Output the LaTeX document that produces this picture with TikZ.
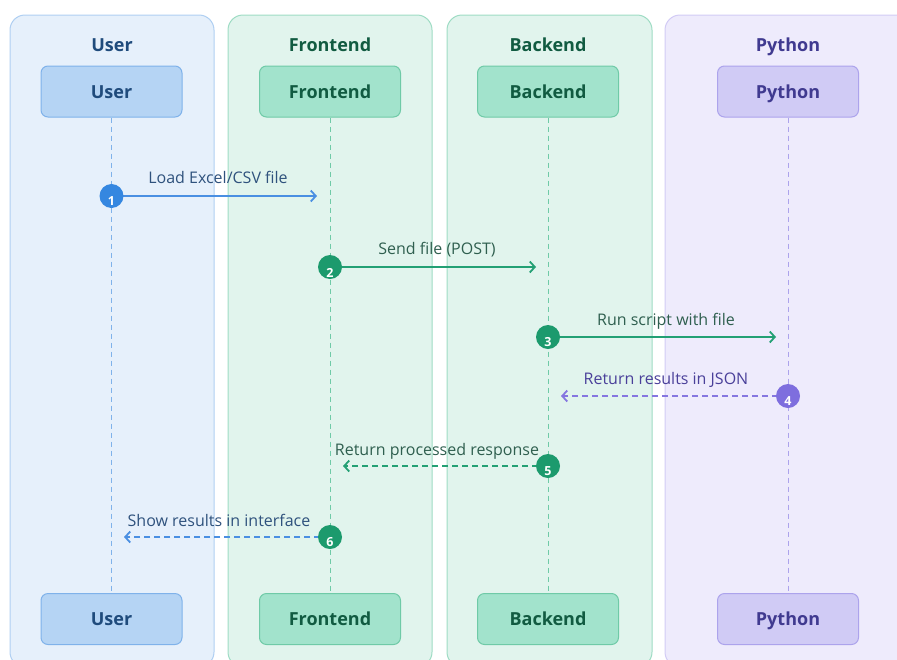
\documentclass[tikz,border=0pt]{standalone}
\usepackage{fontspec}
\setmainfont{Open Sans}
\usetikzlibrary{arrows.meta}

% lane palettes
\definecolor{uLane}{HTML}{E6F0FB}
\definecolor{uLaneB}{HTML}{AFCFF2}
\definecolor{uBox}{HTML}{B5D4F4}
\definecolor{uBoxB}{HTML}{7FB2EA}
\definecolor{uTxt}{HTML}{1F4B7C}
\definecolor{uLine}{HTML}{4A8FE2}
\definecolor{uDot}{HTML}{3587E0}
\definecolor{uLbl}{HTML}{2F527D}

\definecolor{gLane}{HTML}{E1F4ED}
\definecolor{gLaneB}{HTML}{9EDCC4}
\definecolor{gBox}{HTML}{A2E3CC}
\definecolor{gBoxB}{HTML}{6FCAA7}
\definecolor{gTxt}{HTML}{115B41}
\definecolor{gLine}{HTML}{23A074}
\definecolor{gDot}{HTML}{1C9A6D}
\definecolor{gLbl}{HTML}{2F5F4F}

\definecolor{pLane}{HTML}{EEEBFC}
\definecolor{pLaneB}{HTML}{D2CBF5}
\definecolor{pBox}{HTML}{D0CBF5}
\definecolor{pBoxB}{HTML}{ACA3EC}
\definecolor{pTxt}{HTML}{403A90}
\definecolor{pLine}{HTML}{8576E0}
\definecolor{pDot}{HTML}{7E6EDE}
\definecolor{pLbl}{HTML}{4A409A}

\tikzset{
  lane/.style={draw=#1B, fill=#1, line width=1pt, rounded corners=15pt, minimum height=652pt, inner sep=0pt},
  lanetitle/.style={text=#1, font=\fontsize{18}{20}\selectfont\bfseries, text height=13pt, text depth=0pt, inner sep=0pt},
  actor/.style={draw=#1BoxB, fill=#1Box, text=#1Txt, line width=1pt, rounded corners=7pt,
    minimum width=141pt, minimum height=51pt, inner sep=0pt, text height=13pt, text depth=0pt,
    font=\fontsize{18}{20}\selectfont\bfseries},
  lifeline/.style={draw=#1, line width=1pt, dash pattern=on 5pt off 4pt},
  msg/.style={draw=#1, line width=2pt, -{Straight Barb[length=5pt,width=11pt,line width=1.8pt]}},
  reply/.style={msg=#1, dash pattern=on 6pt off 4pt},
  dot/.style={circle, fill=#1, minimum size=24pt, inner sep=0pt},
  num/.style={text=white, font=\fontsize{12.5}{13}\selectfont\bfseries, inner sep=0pt},
  lbl/.style={text=#1, font=\fontsize{16}{18}\selectfont, inner sep=0pt, text height=11.5pt, text depth=0pt}
}

\begin{document}
\begin{tikzpicture}[x=1pt, y=-1pt]
\useasboundingbox (0,0) rectangle (897,659);
\begin{scope}
\clip (0,0) rectangle (897,659);

% swimlanes
\node[lane=uLane, minimum width=204pt] (laneU) at (112,341) {};
\node[lane=gLane, minimum width=204pt] (laneF) at (330,341) {};
\node[lane=gLane, minimum width=205pt] (laneB) at (549.5,341) {};
\node[lane=pLane, minimum width=246pt] (laneP) at (788,341) {};

\node[lanetitle=uTxt] (tU) at (112,45) {User};
\node[lanetitle=gTxt] (tF) at (330,45) {Frontend};
\node[lanetitle=gTxt] (tB) at (548,45) {Backend};
\node[lanetitle=pTxt] (tP) at (788,45) {Python};

% participants, top and bottom
\node[actor=u] (uT) at (111.5,91.5) {User};
\node[actor=g] (fT) at (330,91.5) {Frontend};
\node[actor=g] (bT) at (548,91.5) {Backend};
\node[actor=p] (pT) at (788,91.5) {Python};
\node[actor=u] (uB) at (111.5,619) {User};
\node[actor=g] (fB) at (330,619) {Frontend};
\node[actor=g] (bB) at (548,619) {Backend};
\node[actor=p] (pB) at (788,619) {Python};

% lifelines
\draw[lifeline=uBoxB] (uT) -- (uB);
\draw[lifeline=gBoxB] (fT) -- (fB);
\draw[lifeline=gBoxB] (bT) -- (bB);
\draw[lifeline=pBoxB] (pT) -- (pB);

% message end points
\coordinate (e1) at (317,196);
\coordinate (e2) at (536,267);
\coordinate (e3) at (776,337);
\coordinate (e4) at (561,396);
\coordinate (e5) at (343,466);
\coordinate (e6) at (124,537);

% messages
\draw[msg=uLine] (111.5,196) coordinate (s1) -- (e1);
\node[dot=uDot] (d1) at (s1) {};
\node[num] (n1) at (111.5,201.5) {1};
\node[lbl=uLbl] (l1) at (218,178) {Load Excel/CSV file};

\draw[msg=gLine] (330,267) coordinate (s2) -- (e2);
\node[dot=gDot] (d2) at (s2) {};
\node[num] (n2) at (330,272.5) {2};
\node[lbl=gLbl] (l2) at (437,249) {Send file (POST)};

\draw[msg=gLine] (548,337) coordinate (s3) -- (e3);
\node[dot=gDot] (d3) at (s3) {};
\node[num] (n3) at (548,342.5) {3};
\node[lbl=gLbl] (l3) at (666,320) {Run script with file};

\draw[reply=pLine] (788,396) coordinate (s4) -- (e4);
\node[dot=pDot] (d4) at (s4) {};
\node[num] (n4) at (788,401.5) {4};
\node[lbl=pLbl] (l4) at (666,379) {Return results in JSON};

\draw[reply=gLine] (548,466) coordinate (s5) -- (e5);
\node[dot=gDot] (d5) at (s5) {};
\node[num] (n5) at (548,471.5) {5};
\node[lbl=gLbl] (l5) at (437,450) {Return processed response};

\draw[reply=uLine] (330,537) coordinate (s6) -- (e6);
\node[dot=gDot] (d6) at (s6) {};
\node[num] (n6) at (330,542.5) {6};
\node[lbl=uLbl] (l6) at (219,521) {Show results in interface};
\end{scope}
\end{tikzpicture}
\end{document}
